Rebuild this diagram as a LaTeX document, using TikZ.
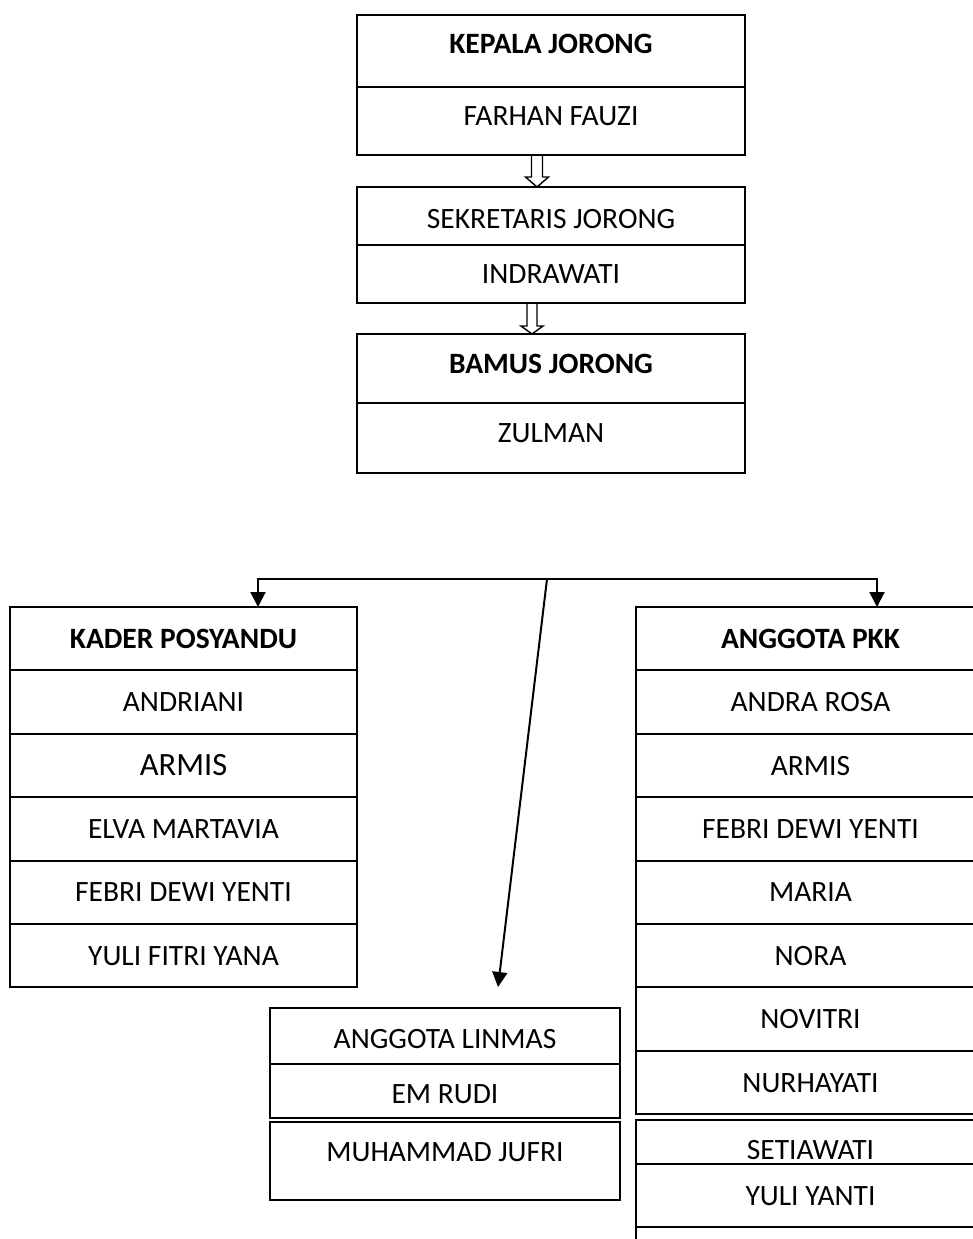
\documentclass[tikz,border=0pt]{standalone}
\usepackage{fontspec}
\setmainfont{Carlito}
\usepackage{tikz}
\usetikzlibrary{arrows.meta,positioning,calc}

\tikzset{
  box/.style={draw, line width=2pt, inner sep=0pt, outer sep=0pt, anchor=north,
    font=\fontsize{29.5}{35}\selectfont, text height=19pt, text depth=0pt},
  lift/.style={text depth=#1},
  drop/.style={text height=#1},
  topbox/.style={box, minimum width=388pt},
  kaderbox/.style={box, minimum width=347pt, minimum height=63.4pt},
  pkkbox/.style={box, minimum width=349pt, minimum height=63.4pt},
  linmasbox/.style={box, minimum width=350pt},
  conn/.style={line width=2pt, -{Triangle[length=15pt,width=15pt]}},
}

% open arrow between two stacked boxes: top, tip, half shaft, half head, head length
\newcommand{\hollowarrow}[5]{%
  \draw[line width=1.4pt]
    ($(#1)+(-#3,0)$) -- ($(#2)+(-#3,-#5)$) -- ($(#2)+(-#4,-#5)$) -- (#2)
    -- ($(#2)+(#4,-#5)$) -- ($(#2)+(#3,-#5)$) -- ($(#1)+(#3,0)$);}

\begin{document}
\begin{tikzpicture}[x=1pt,y=-1pt]
  \useasboundingbox (0,0) rectangle (973,1239);
  \fill[white] (0,0) rectangle (973,1239);
  \clip (0,0) rectangle (973,1239);

  % Kepala jorong
  \node[topbox, minimum height=72pt, lift=14pt] (kepala) at (551,15) {\textbf{KEPALA JORONG}};
  \node[topbox, minimum height=68pt, lift=10pt, below=0pt of kepala] (farhan) {FARHAN FAUZI};

  % Sekretaris
  \node[topbox, minimum height=58pt, drop=24pt] (sekretaris) at (551,187) {SEKRETARIS JORONG};
  \node[topbox, minimum height=58pt, below=0pt of sekretaris] (indrawati) {INDRAWATI};

  % Bamus
  \node[topbox, minimum height=69pt, lift=9pt] (bamus) at (551,334) {\textbf{BAMUS JORONG}};
  \node[topbox, minimum height=70pt, lift=11pt, below=0pt of bamus] (zulman) {ZULMAN};

  % open arrows down the top column
  \coordinate (a1top) at ([xshift=-14pt]farhan.south);
  \coordinate (a1tip) at ([xshift=-14pt]sekretaris.north);
  \hollowarrow{a1top}{a1tip}{5.5}{11.5}{10}
  \coordinate (a2top) at ([xshift=-19pt]indrawati.south);
  \coordinate (a2tip) at ([xshift=-19pt]bamus.north);
  \hollowarrow{a2top}{a2tip}{5}{11}{8}

  % Kader posyandu
  \node[kaderbox] (kader0) at (183.5,607) {\textbf{KADER POSYANDU}};
  \foreach \who [count=\i] in {ANDRIANI, {\fontsize{32.5}{38}\selectfont ARMIS}, ELVA MARTAVIA, FEBRI DEWI YENTI, YULI FITRI YANA}
    \node[kaderbox] (kader\i) at (183.5,{607+63.4*\i}) {\who};

  % Anggota PKK
  \node[pkkbox] (pkk0) at (810.5,607) {\textbf{ANGGOTA PKK}};
  \foreach \who [count=\i] in {ANDRA ROSA, ARMIS, FEBRI DEWI YENTI, MARIA, NORA, NOVITRI, NURHAYATI}
    \node[pkkbox] (pkk\i) at (810.5,{607+63.4*\i}) {\who};
  \node[pkkbox, minimum height=44pt, drop=35pt] (setiawati) at (810.5,1120) {SETIAWATI};
  \node[pkkbox, below=0pt of setiawati] (yuli) {YULI YANTI};
  \node[pkkbox, below=0pt of yuli] (pkkrest) {};

  % Anggota linmas
  \node[linmasbox, minimum height=56pt, drop=25pt] (linmas) at (445,1008) {ANGGOTA LINMAS};
  \node[linmasbox, minimum height=54pt, drop=25pt, below=0pt of linmas] (emrudi) {EM RUDI};
  \node[linmasbox, minimum height=78pt, lift=18pt] (jufri) at (445,1122) {MUHAMMAD JUFRI};

  % Connectors
  \coordinate (bus) at (547,579);
  \draw[conn] (bus) -| ([xshift=74.5pt]kader0.north);
  \draw[conn] (bus) -| ([xshift=66.5pt]pkk0.north);
  \draw[conn] (bus) -- ([xshift=53pt,yshift=21pt]linmas.north);
\end{tikzpicture}
\end{document}
